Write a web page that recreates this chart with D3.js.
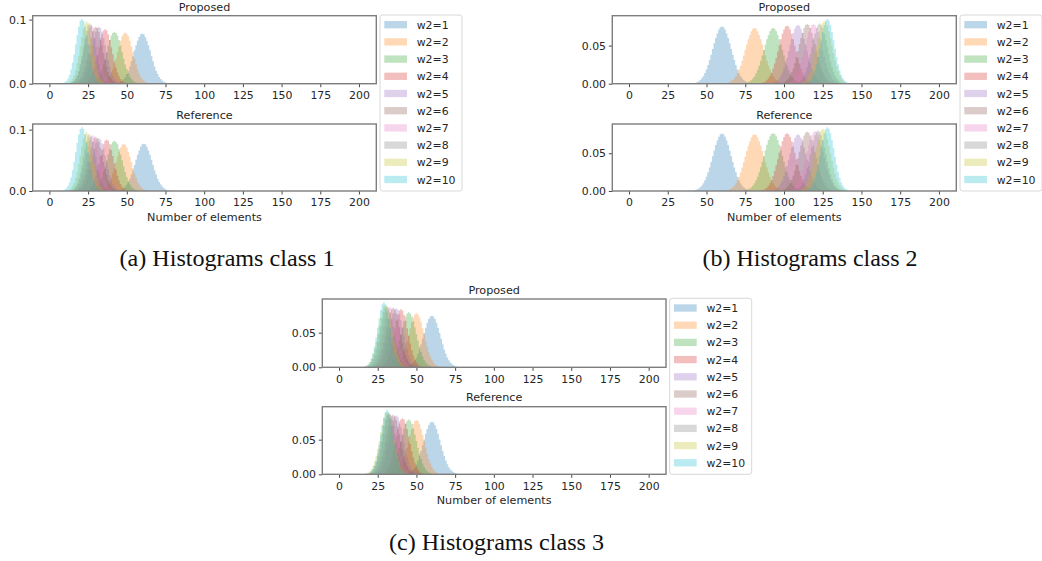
<!DOCTYPE html>
<html><head><meta charset="utf-8">
<script src="https://cdn.jsdelivr.net/npm/d3@7"></script>
<style>body{margin:0;background:#fff}svg{display:block}</style>
</head><body><svg id="c" width="1042" height="561"></svg>
<script>
// ---------------- DATA ----------------
const seriesLabels = ["w2=1","w2=2","w2=3","w2=4","w2=5","w2=6","w2=7","w2=8","w2=9","w2=10"];
const seriesColors = ["#1f77b4","#ff7f0e","#2ca02c","#d62728","#9467bd","#8c564b","#e377c2","#7f7f7f","#bcbd22","#17becf"];
const xTicks = [0,25,50,75,100,125,150,175,200];
const yTicksClass1 = [0,0.1];
const yTicksClass2 = [0,0.05];
const yTicksClass3 = [0,0.05];
const panelTitles = ["Proposed","Reference"];
const captions = ["(a) Histograms class 1","(b) Histograms class 2","(c) Histograms class 3"];
const binWidth = 1;           // one bin per number of elements
const densityUnit = 1000;     // values below are density x 1000

// class 1 — centre of the first bin of each series, then bin densities (x1000)
const startsClass1Proposed = [43,33,26,22,18,16,13,13,11,8];
const valuesClass1Proposed = [
 [0.6,1.2,1.9,3,4.8,7.3,10.5,15,20,27,35,43,52,60,67,73,77,78,77,73,67,60,52,43,35,27,20,15,10.5,7.3,4.8,3,1.9,1.2,0.6],
 [0.5,0.9,1.6,2.7,4.5,7.1,11,16,22,30,39,49,58,67,74,78,80,78,74,67,58,49,39,30,22,16,11,7.1,4.5,2.7,1.6,0.9,0.5],
 [0.5,0.9,1.6,2.8,4.5,7.2,11,16,23,30,39,49,59,68,75,79,81,79,75,68,59,49,39,30,23,16,11,7.2,4.5,2.8,1.6,0.9,0.5],
 [0.7,1.3,2.5,4.3,7.2,11.5,17.5,25,35,46,57,68,77,83,85,83,77,68,57,46,35,25,17.5,11.5,7.2,4.3,2.5,1.3,0.7],
 [0.7,1.3,2.6,4.5,7.6,12,18.3,26.5,37,48,60,71,81,87,89,87,81,71,60,48,37,26.5,18.3,12,7.6,4.5,2.6,1.3,0.7],
 [0.7,1.3,2.6,4.5,7.6,12,18.3,26.5,37,48,60,71,81,87,89,87,81,71,60,48,37,26.5,18.3,12,7.6,4.5,2.6,1.3,0.7],
 [0.7,1.4,2.6,4.6,7.7,12.3,18.7,27,37,49,61,73,82,89,91,89,82,73,61,49,37,27,18.7,12.3,7.7,4.6,2.6,1.4,0.7],
 [0.5,1,2.2,4.1,7.5,12.7,20,31,43,57,71,83,91,94,91,83,71,57,43,31,20,12.7,7.5,4.1,2.2,1,0.5],
 [0.5,1.1,2.2,4.3,7.8,13.1,21,32,44,59,73,86,94,97,94,86,73,59,44,32,21,13.1,7.8,4.3,2.2,1.1,0.5],
 [0.5,1.1,2.3,4.4,8.1,13.6,22,33,46,61,76,89,98,101,98,89,76,61,46,33,22,13.6,8.1,4.4,2.3,1.1,0.5]
];
const startsClass1Reference = [44,32,26,23,18,16,14,13,11,8];
const valuesClass1Reference = [
 [0.6,1.2,1.8,3,4.7,7.2,10.4,14.7,20,26.7,34,42.5,51,59,66,72,76,77,76,72,66,59,51,42.5,34,26.7,20,14.7,10.4,7.2,4.7,3,1.8,1.2,0.6],
 [0.5,0.8,1.5,2.6,4.3,6.9,10.4,15.2,21.4,29,37.5,47,56,64,71,75.5,77,75.5,71,64,56,47,37.5,29,21.4,15.2,10.4,6.9,4.3,2.6,1.5,0.8,0.5],
 [0.5,0.9,1.6,2.8,4.6,7.3,11,16.2,23,31,40,50,59.5,68.5,76,80,82,80,76,68.5,59.5,50,40,31,23,16.2,11,7.3,4.6,2.8,1.6,0.9,0.5],
 [0.7,1.3,2.4,4.2,7.1,11.3,17.3,25,34.5,45,57,67,76,82,84,82,76,67,57,45,34.5,25,17.3,11.3,7.1,4.2,2.4,1.3,0.7],
 [0.7,1.3,2.5,4.3,7.3,11.6,17.7,25.6,35,46,58,69,78,84,86,84,78,69,58,46,35,25.6,17.7,11.6,7.3,4.3,2.5,1.3,0.7],
 [0.7,1.3,2.6,4.4,7.5,11.9,18.1,26.2,36,47.4,59,70.5,80,86,88,86,80,70.5,59,47.4,36,26.2,18.1,11.9,7.5,4.4,2.6,1.3,0.7],
 [0.7,1.4,2.6,4.6,7.7,12.3,18.7,27,37,49,61,73,82,89,91,89,82,73,61,49,37,27,18.7,12.3,7.7,4.6,2.6,1.4,0.7],
 [0.5,1,2.1,4,7.4,12.4,20,30,42,56,69,81,89,92,89,81,69,56,42,30,20,12.4,7.4,4,2.1,1,0.5],
 [0.5,1.1,2.2,4.2,7.7,13,21,31,44,58,72.5,85,93,96,93,85,72.5,58,44,31,21,13,7.7,4.2,2.2,1.1,0.5],
 [0.5,1.1,2.4,4.6,8.3,14,22.5,34,47.6,63,78.5,92,101,104,101,92,78.5,63,47.6,34,22.5,14,8.3,4.6,2.4,1.1,0.5]
];

// class 2
const startsClass2Proposed = [42,63,75,85,92,98,102,107,110,114];
const valuesClass2Proposed = [
 [0.8,1.4,2.2,3.3,5,7.2,10.1,14,18.7,24.4,31,38,45.5,53,60,66,71,74,75,74,71,66,60,53,45.5,38,31,24.4,18.7,14,10.1,7.2,5,3.3,2.2,1.4,0.8],
 [0.8,1.3,2.1,3.2,4.8,7,9.9,13.6,18.2,23.7,30,37,44.3,51.6,58.5,64,69,72,73,72,69,64,58.5,51.6,44.3,37,30,23.7,18.2,13.6,9.9,7,4.8,3.2,2.1,1.3,0.8],
 [0.8,1.3,2.1,3.2,4.8,7,9.9,13.6,18.2,23.7,30,37,44.3,51.6,58.5,64,69,72,73,72,69,64,58.5,51.6,44.3,37,30,23.7,18.2,13.6,9.9,7,4.8,3.2,2.1,1.3,0.8],
 [0.6,1.1,1.8,3,4.6,7.1,10.3,14.5,19.9,26.4,33.8,42,50.3,58.4,65.5,71,75,76,75,71,65.5,58.4,50.3,42,33.8,26.4,19.9,14.5,10.3,7.1,4.6,3,1.8,1.1,0.6],
 [0.6,1.2,1.8,3,4.7,7.2,10.4,14.7,20.2,26.7,34.3,42.5,51,59,66.4,72,75.8,77,75.8,72,66.4,59,51,42.5,34.3,26.7,20.2,14.7,10.4,7.2,4.7,3,1.8,1.2,0.6],
 [0.6,1.2,1.9,3,4.8,7.3,10.5,15,20,27,35,43,52,60,67,73,77,78,77,73,67,60,52,43,35,27,20,15,10.5,7.3,4.8,3,1.9,1.2,0.6],
 [0.6,1.2,1.9,3.1,4.8,7.3,10.6,15,20.6,27.2,35,43.3,52,60.3,67.7,73.5,77.2,78.5,77.2,73.5,67.7,60.3,52,43.3,35,27.2,20.6,15,10.6,7.3,4.8,3.1,1.9,1.2,0.6],
 [0.5,0.9,1.6,2.7,4.4,7,10.7,15.6,22,29.6,38.5,48,57.4,66,73,77.4,79,77.4,73,66,57.4,48,38.5,29.6,22,15.6,10.7,7,4.4,2.7,1.6,0.9,0.5],
 [0.5,0.9,1.6,2.8,4.6,7.3,11.1,16.2,22.8,30.8,40,49.8,59.5,68.5,75.7,80,82,80,75.7,68.5,59.5,49.8,40,30.8,22.8,16.2,11.1,7.3,4.6,2.8,1.6,0.9,0.5],
 [0.7,1.3,2.5,4.3,7.2,11.5,17.5,25.3,35,45.8,57,68,77,83,85,83,77,68,57,45.8,35,25.3,17.5,11.5,7.2,4.3,2.5,1.3,0.7]
];
const startsClass2Reference = [42,63,75,85,92,98,103,106,109,114];
const valuesClass2Reference = [
 [0.8,1.4,2.2,3.3,5,7.3,10.3,14.1,18.9,24.7,31.2,38.5,46,53.7,61,67,72,75,76,75,72,67,61,53.7,46,38.5,31.2,24.7,18.9,14.1,10.3,7.3,5,3.3,2.2,1.4,0.8],
 [0.8,1.4,2.2,3.3,5,7.2,10.1,14,18.7,24.4,31,38,45.5,53,60,66,71,74,75,74,71,66,60,53,45.5,38,31,24.4,18.7,14,10.1,7.2,5,3.3,2.2,1.4,0.8],
 [0.8,1.4,2.2,3.4,5,7.3,10.3,14.2,19,24.9,31.4,38.7,46.4,54,61.3,67.5,72.4,75.4,76.5,75.4,72.4,67.5,61.3,54,46.4,38.7,31.4,24.9,19,14.2,10.3,7.3,5,3.4,2.2,1.4,0.8],
 [0.6,1.1,1.8,3,4.7,7.1,10.3,14.6,20,26.5,34,42.2,50.6,58.8,66,71.6,75.3,76.5,75.3,71.6,66,58.8,50.6,42.2,34,26.5,20,14.6,10.3,7.1,4.7,3,1.8,1.1,0.6],
 [0.6,1.1,1.8,2.9,4.6,7,10.1,14.3,19.7,26,33.4,41.4,49.7,57.6,64.7,70.2,73.8,75,73.8,70.2,64.7,57.6,49.7,41.4,33.4,26,19.7,14.3,10.1,7,4.6,2.9,1.8,1.1,0.6],
 [0.6,1.2,1.9,3.1,4.8,7.3,10.6,15,20.6,27.3,35,43.4,52,60.4,67.8,73.6,77.3,78.6,77.3,73.6,67.8,60.4,52,43.4,35,27.3,20.6,15,10.6,7.3,4.8,3.1,1.9,1.2,0.6],
 [0.6,1.2,1.9,3.1,4.8,7.3,10.7,15.1,20.7,27.4,35.2,43.6,52.3,60.7,68,74,77.7,79,77.7,74,68,60.7,52.3,43.6,35.2,27.4,20.7,15.1,10.7,7.3,4.8,3.1,1.9,1.2,0.6],
 [0.5,0.9,1.6,2.7,4.5,7.1,10.8,15.8,22.2,30,39,48.6,58.1,66.8,73.8,78.4,80,78.4,73.8,66.8,58.1,48.6,39,30,22.2,15.8,10.8,7.1,4.5,2.7,1.6,0.9,0.5],
 [0.5,0.9,1.6,2.8,4.6,7.3,11.1,16.2,22.8,30.8,40,49.8,59.5,68.5,75.7,80,82,80,75.7,68.5,59.5,49.8,40,30.8,22.8,16.2,11.1,7.3,4.6,2.8,1.6,0.9,0.5],
 [0.7,1.3,2.5,4.2,7.2,11.4,17.4,25.2,34.7,45.5,57,67.7,76.6,82.5,84.5,82.5,76.6,67.7,57,45.5,34.7,25.2,17.4,11.4,7.2,4.2,2.5,1.3,0.7]
];

// class 3
const startsClass3Proposed = [43,34,29,26,23,21,19,17,16,16];
const valuesClass3Proposed = [
 [0.6,1.1,1.8,2.9,4.6,6.9,10.1,14.2,19.5,25.9,33.2,41.2,49.4,57.3,64.3,69.8,73.4,74.6,73.4,69.8,64.3,57.3,49.4,41.2,33.2,25.9,19.5,14.2,10.1,6.9,4.6,2.9,1.8,1.1,0.6],
 [0.5,0.9,1.6,2.7,4.4,6.9,10.5,15.4,21.7,29.3,38,47.3,56.6,65.1,72,76.4,78,76.4,72,65.1,56.6,47.3,38,29.3,21.7,15.4,10.5,6.9,4.4,2.7,1.6,0.9,0.5],
 [0.5,0.9,1.6,2.7,4.5,7.1,10.7,15.7,22.1,29.8,38.7,48.3,57.7,66.4,73.4,77.9,79.5,77.9,73.4,66.4,57.7,48.3,38.7,29.8,22.1,15.7,10.7,7.1,4.5,2.7,1.6,0.9,0.5],
 [0.7,1.3,2.4,4.2,7.1,11.3,17.3,25,34.5,45.3,56.6,67.3,76,82,84,82,76,67.3,56.6,45.3,34.5,25,17.3,11.3,7.1,4.2,2.4,1.3,0.7],
 [0.7,1.3,2.5,4.3,7.2,11.5,17.5,25.3,35,45.8,57.3,68,77,83,85,83,77,68,57.3,45.8,35,25.3,17.5,11.5,7.2,4.3,2.5,1.3,0.7],
 [0.7,1.3,2.5,4.3,7.3,11.6,17.7,25.6,35.3,46.4,58,69,78,84,86,84,78,69,58,46.4,35.3,25.6,17.7,11.6,7.3,4.3,2.5,1.3,0.7],
 [0.7,1.3,2.5,4.4,7.4,11.7,17.9,25.9,35.8,46.9,58.6,69.7,78.8,85,87,85,78.8,69.7,58.6,46.9,35.8,25.9,17.9,11.7,7.4,4.4,2.5,1.3,0.7],
 [0.7,1.3,2.6,4.4,7.5,11.9,18.1,26.2,36.2,47.4,59.3,70.5,79.7,86,88,86,79.7,70.5,59.3,47.4,36.2,26.2,18.1,11.9,7.5,4.4,2.6,1.3,0.7],
 [0.7,1.4,2.6,4.5,7.7,12.2,18.5,26.8,37,48.5,60.7,72,81.5,87.8,90,87.8,81.5,72,60.7,48.5,37,26.8,18.5,12.2,7.7,4.5,2.6,1.4,0.7],
 [0.5,1,2.2,4.1,7.5,12.7,20.3,30.6,43,57,71,83,91,94,91,83,71,57,43,30.6,20.3,12.7,7.5,4.1,2.2,1,0.5]
];
const startsClass3Reference = [43,34,29,27,23,21,19,18,17,18];
const valuesClass3Reference = [
 [0.6,1.1,1.8,3,4.6,7.1,10.3,14.5,19.9,26.4,33.8,42,50.3,58.4,65.5,71.1,74.8,76,74.8,71.1,65.5,58.4,50.3,42,33.8,26.4,19.9,14.5,10.3,7.1,4.6,3,1.8,1.1,0.6],
 [0.5,0.9,1.6,2.7,4.4,7,10.6,15.6,21.9,29.5,38.3,47.7,57,65.6,72.5,77,78.6,77,72.5,65.6,57,47.7,38.3,29.5,21.9,15.6,10.6,7,4.4,2.7,1.6,0.9,0.5],
 [0.5,0.9,1.6,2.7,4.4,7,10.7,15.6,22,29.6,38.5,48,57.4,66,73,77.4,79,77.4,73,66,57.4,48,38.5,29.6,22,15.6,10.7,7,4.4,2.7,1.6,0.9,0.5],
 [0.6,1.2,2.3,4,6.9,10.9,16.7,24.1,33.3,43.7,54.6,64.9,73.4,79,81,79,73.4,64.9,54.6,43.7,33.3,24.1,16.7,10.9,6.9,4,2.3,1.2,0.6],
 [0.7,1.3,2.5,4.3,7.2,11.5,17.5,25.3,35,45.8,57.3,68,77,83,85,83,77,68,57.3,45.8,35,25.3,17.5,11.5,7.2,4.3,2.5,1.3,0.7],
 [0.7,1.3,2.5,4.3,7.3,11.6,17.7,25.6,35.3,46.4,58,69,78,84,86,84,78,69,58,46.4,35.3,25.6,17.7,11.6,7.3,4.3,2.5,1.3,0.7],
 [0.7,1.3,2.5,4.4,7.4,11.7,17.9,25.9,35.8,46.9,58.6,69.7,78.8,85,87,85,78.8,69.7,58.6,46.9,35.8,25.9,17.9,11.7,7.4,4.4,2.5,1.3,0.7],
 [0.7,1.3,2.6,4.4,7.5,11.9,18.1,26.2,36.2,47.4,59.3,70.5,79.7,86,88,86,79.7,70.5,59.3,47.4,36.2,26.2,18.1,11.9,7.5,4.4,2.6,1.3,0.7],
 [0.7,1.4,2.6,4.5,7.7,12.2,18.5,26.8,37,48.5,60.7,72,81.5,87.8,90,87.8,81.5,72,60.7,48.5,37,26.8,18.5,12.2,7.7,4.5,2.6,1.4,0.7],
 [0.5,1,2.1,4.1,7.4,12.6,20.1,30.2,42.6,56.5,70,82,90,93,90,82,70,56.5,42.6,30.2,20.1,12.6,7.4,4.1,2.1,1,0.5]
];

// ---------------- LAYOUT ----------------
const xDomain = [-10.8, 211.2];
const figs = [
 {cap:captions[0], capX:227, capY:266, left:32.7, right:376.3, tops:[15.7,124], heights:[68,67], yTicks:yTicksClass1, yFmt:".1f",
  starts:[startsClass1Proposed,startsClass1Reference], values:[valuesClass1Proposed,valuesClass1Reference]},
 {cap:captions[1], capX:810, capY:266, left:612.3, right:956.3, tops:[15.7,124], heights:[68,67], yTicks:yTicksClass2, yFmt:".2f",
  starts:[startsClass2Proposed,startsClass2Reference], values:[valuesClass2Proposed,valuesClass2Reference]},
 {cap:captions[2], capX:496.5, capY:550, left:322.3, right:666, tops:[299,406.7], heights:[68.3,67.6], yTicks:yTicksClass3, yFmt:".2f",
  starts:[startsClass3Proposed,startsClass3Reference], values:[valuesClass3Proposed,valuesClass3Reference]}
];
const FONT = "'DejaVu Sans', sans-serif";
const TEXT = "#262626";
const svg = d3.select("#c");
let clipId = 0;

figs.forEach(fig => {
  [0,1].forEach(p => {
    const top = fig.tops[p], h = fig.heights[p], bottom = top + h;
    const starts = fig.starts[p], values = fig.values[p];
    const x = d3.scaleLinear().domain(xDomain).range([fig.left, fig.right]);
    const ymax = 1.05 * d3.max(values.flat()) / densityUnit;
    const y = d3.scaleLinear().domain([0, ymax]).range([bottom, top]);
    const g = svg.append("g");
    const cid = "clip" + (clipId++);
    g.append("clipPath").attr("id", cid).append("rect")
      .attr("x", fig.left).attr("y", top).attr("width", fig.right - fig.left).attr("height", h);
    const plot = g.append("g").attr("clip-path", `url(#${cid})`);
    const area = d3.area().curve(d3.curveStepAfter)
      .x(d => x(d[0])).y0(y(0)).y1(d => y(d[1]));
    values.forEach((vals, i) => {
      const edge0 = starts[i] - binWidth / 2;
      const pts = vals.map((v, j) => [edge0 + j * binWidth, v / densityUnit]);
      pts.push([edge0 + vals.length * binWidth, vals[vals.length - 1] / densityUnit]);
      plot.append("path").attr("d", area(pts))
        .attr("fill", seriesColors[i]).attr("fill-opacity", 0.3).attr("stroke", "none");
    });
    const xa = g.append("g").attr("transform", `translate(0,${bottom})`)
      .call(d3.axisBottom(x).tickValues(xTicks).tickSize(3.5).tickPadding(4).tickFormat(d3.format("d")));
    const ya = g.append("g").attr("transform", `translate(${fig.left},0)`)
      .call(d3.axisLeft(y).tickValues(fig.yTicks).tickSize(3.5).tickPadding(2.8).tickFormat(d3.format(fig.yFmt)));
    [xa, ya].forEach(a => {
      a.select(".domain").remove();
      a.selectAll("line").attr("stroke", "#333").attr("stroke-width", 0.9);
      a.selectAll("text").attr("font-family", FONT).attr("font-size", "10.9px").attr("fill", TEXT);
    });
    g.append("rect").attr("x", fig.left).attr("y", top)
      .attr("width", fig.right - fig.left).attr("height", h)
      .attr("fill", "none").attr("stroke", "#7d7d7d").attr("stroke-width", 1.4);
    g.append("text").attr("x", (fig.left + fig.right) / 2).attr("y", top - (p === 0 ? 4.8 : 5.5))
      .attr("text-anchor", "middle").attr("font-family", FONT).attr("font-size", "11.2px")
      .attr("fill", TEXT).text(panelTitles[p]);
    if (p === 1) {
      g.append("text").attr("x", (fig.left + fig.right) / 2).attr("y", bottom + 29.7)
        .attr("text-anchor", "middle").attr("font-family", FONT).attr("font-size", "11.2px")
        .attr("fill", TEXT).text("Number of elements");
    }
  });
  const lx = fig.right + 3.7, ly = fig.tops[0] - 0.7;
  const lh = fig.tops[1] + fig.heights[1] - ly;
  const lg = svg.append("g");
  lg.append("rect").attr("x", lx).attr("y", ly).attr("width", 82).attr("height", lh)
    .attr("rx", 2.5).attr("fill", "#fff").attr("stroke", "#d8d8d8").attr("stroke-width", 1);
  seriesLabels.forEach((lab, i) => {
    const cy = ly + 9.7 + i * 17.2;
    lg.append("rect").attr("x", lx + 4.3).attr("y", cy - 3.65).attr("width", 22.7).attr("height", 7.3)
      .attr("fill", seriesColors[i]).attr("fill-opacity", 0.3);
    lg.append("text").attr("x", lx + 36.7).attr("y", cy + 4).attr("font-family", FONT)
      .attr("font-size", "10.9px").attr("fill", TEXT).text(lab);
  });
  svg.append("text").attr("x", fig.capX).attr("y", fig.capY).attr("text-anchor", "middle")
    .attr("font-family", "'Liberation Serif', 'Times New Roman', serif").attr("font-size", "24px")
    .attr("fill", "#111").attr("textLength", 215).attr("lengthAdjust", "spacingAndGlyphs")
    .text(fig.cap);
});
</script></body></html>
